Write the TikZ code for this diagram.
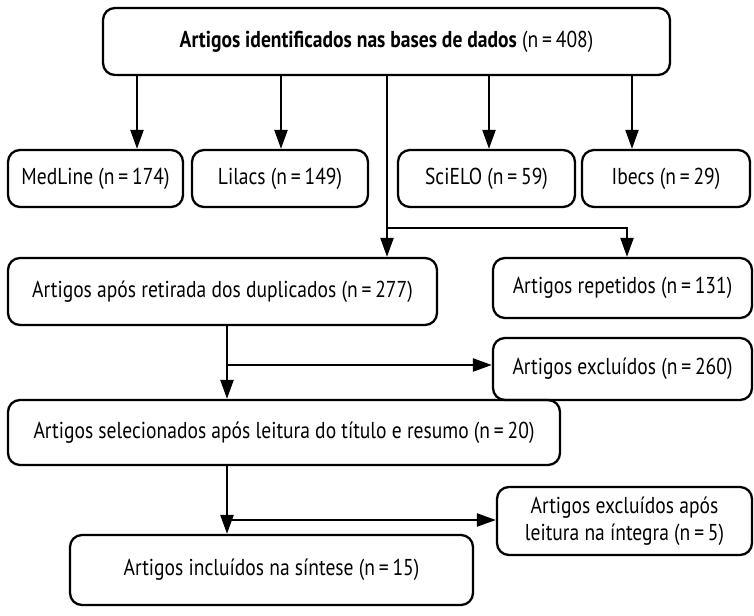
\documentclass[tikz,border=0pt]{standalone}
\usepackage{fontspec}
\setmainfont[FakeStretch=0.85]{PT Sans}
\usetikzlibrary{arrows.meta}
\begin{document}
\begin{tikzpicture}[x=1pt,y=-1pt,
  box/.style={draw, line width=2.3pt, rounded corners=12pt, align=center, inner sep=0pt, font=\fontsize{23}{27}\selectfont},
  arr/.style={line width=2.3pt, -{Triangle[length=19pt,width=13pt]}},
  ln/.style={line width=2.3pt}]
\useasboundingbox (0,0) rectangle (754,615);
\node[box, minimum width=567pt, minimum height=67pt] (top) at (386.5,41.5) {\textbf{Artigos identificados nas bases de dados} (n\,=\,408)};
\node[box, minimum width=175pt, minimum height=57pt] (med) at (95.5,178.5) {MedLine (n\,=\,174)};
\node[box, minimum width=176pt, minimum height=57pt] (lil) at (280,178.5) {Lilacs (n\,=\,149)};
\node[box, minimum width=177pt, minimum height=57pt] (sci) at (486.5,178.5) {SciELO (n\,=\,59)};
\node[box, minimum width=168pt, minimum height=57pt] (ibe) at (666,178.5) {Ibecs (n\,=\,29)};
\node[box, minimum width=429pt, minimum height=67pt] (apos) at (222.5,291.5) {Artigos após retirada dos duplicados (n\,=\,277)};
\node[box, minimum width=259pt, minimum height=60pt] (rep) at (622.5,288) {Artigos repetidos (n\,=\,131)};
\node[box, minimum width=259pt, minimum height=62pt] (exc) at (622.5,369) {Artigos excluídos (n\,=\,260)};
\node[box, minimum width=552pt, minimum height=65pt] (sel) at (284,432.5) {Artigos selecionados após leitura do título e resumo (n\,=\,20)};
\node[box, minimum width=255pt, minimum height=68pt] (exc2) at (624.5,521) {Artigos excluídos após\\leitura na íntegra (n\,=\,5)};
\node[box, minimum width=403pt, minimum height=70pt] (inc) at (271.5,570) {Artigos incluídos na síntese (n\,=\,15)};
\coordinate (b1) at (387,228);
\coordinate (b2) at (227,365);
\coordinate (b3) at (227,520);
\draw[arr] (top.south -| 137,0) -- (med.north -| 137,0);
\draw[arr] (top.south -| 281,0) -- (lil.north -| 281,0);
\draw[arr] (top.south -| 489,0) -- (sci.north -| 489,0);
\draw[arr] (top.south -| 632,0) -- (ibe.north -| 632,0);
\draw[arr] (top.south -| b1) -- (apos.north -| b1);
\draw[arr] (b1) -| (rep.north -| 627,0);
\draw[arr] (apos.south -| b2) -- (sel.north -| b2);
\draw[arr] (b2) -- (exc.west |- b2);
\draw[arr] (sel.south -| b3) -- (inc.north -| b3);
\draw[arr] (b3) -- (exc2.west |- b3);
\end{tikzpicture}
\end{document}
